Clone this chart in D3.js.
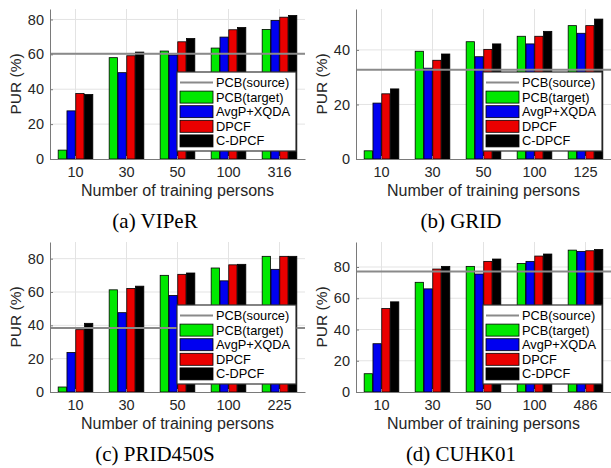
<!DOCTYPE html>
<meta charset="utf-8">
<style>
  body { margin: 0; background: #fff; }
  svg text { font-family: "Liberation Sans", Arial, sans-serif; fill: #262626; }
  .tick text { font-size: 14.5px; }
  .xlabel { font-size: 16px; }
  .ylabel { font-size: 15.5px; }
  .legend text { font-size: 12.8px; fill: #000; }
  svg text.caption { font-family: "Liberation Serif", "Times New Roman", serif; font-size: 21px; fill: #000; }
</style>
<svg width="611" height="468"></svg>
<script src="https://d3js.org/d3.v7.min.js"></script>
<script>
  // series order inside each group
  var seriesNames = ["PCB(target)", "AvgP+XQDA", "DPCF", "C-DPCF"];
  var seriesColors = ["#00e800", "#0000f0", "#ea0000", "#000000"];

  // (a) VIPeR
  var viperCats = ["10", "30", "50", "100", "316"];
  var viperTarget = [5.1, 58.1, 61.9, 63.6, 74.3];
  var viperXqda = [27.6, 49.5, 59.6, 69.9, 79.4];
  var viperDpcf = [37.5, 59.2, 67.2, 74.1, 81.3];
  var viperCdpcf = [37.0, 61.3, 69.1, 75.4, 82.3];
  var viperSource = 60.4;

  // (b) GRID
  var gridCats = ["10", "30", "50", "100", "125"];
  var gridTarget = [3.0, 39.5, 43.0, 45.0, 48.9];
  var gridXqda = [20.5, 33.3, 37.5, 42.2, 46.1];
  var gridDpcf = [23.9, 36.2, 40.2, 45.0, 48.9];
  var gridCdpcf = [25.7, 38.5, 42.2, 46.8, 51.3];
  var gridSource = 32.7;

  // (c) PRID450S
  var pridCats = ["10", "30", "50", "100", "225"];
  var pridTarget = [3.0, 61.3, 70.0, 74.4, 81.4];
  var pridXqda = [23.7, 47.6, 57.9, 66.7, 73.6];
  var pridDpcf = [37.4, 62.1, 70.6, 76.3, 81.4];
  var pridCdpcf = [41.2, 63.5, 71.4, 76.6, 81.4];
  var pridSource = 38.4;

  // (d) CUHK01
  var cuhkCats = ["10", "30", "50", "100", "486"];
  var cuhkTarget = [11.7, 70.2, 80.4, 82.3, 90.8];
  var cuhkXqda = [30.9, 66.0, 75.5, 83.6, 90.0];
  var cuhkDpcf = [53.4, 78.7, 83.6, 87.0, 90.4];
  var cuhkCdpcf = [57.7, 80.4, 85.1, 88.3, 91.2];
  var cuhkSource = 77.2;

  var yTicks80 = [0, 20, 40, 60, 80];
  var yTicks40 = [0, 20, 40];

  var panels = [
    { caption: "(a) VIPeR", cats: viperCats, series: [viperTarget, viperXqda, viperDpcf, viperCdpcf], source: viperSource, ymax: 86, ticks: yTicks80, ox: 50, oy: 9 },
    { caption: "(b) GRID", cats: gridCats, series: [gridTarget, gridXqda, gridDpcf, gridCdpcf], source: gridSource, ymax: 55, ticks: yTicks40, ox: 356, oy: 9 },
    { caption: "(c) PRID450S", cats: pridCats, series: [pridTarget, pridXqda, pridDpcf, pridCdpcf], source: pridSource, ymax: 90, ticks: yTicks80, ox: 50, oy: 242 },
    { caption: "(d) CUHK01", cats: cuhkCats, series: [cuhkTarget, cuhkXqda, cuhkDpcf, cuhkCdpcf], source: cuhkSource, ymax: 96, ticks: yTicks80, ox: 356, oy: 242 }
  ];

  var svg = d3.select("svg"),
    W = 255,
    H = 150;

  panels.forEach(drawPanel);

  function drawPanel(p) {
    var g = svg.append("g").attr("transform", "translate(" + p.ox + "," + p.oy + ")");

    var x0 = d3.scaleBand().domain(p.cats).range([0, W]).paddingInner(0.3).paddingOuter(0.15);
    var x1 = d3.scaleBand().domain(d3.range(seriesNames.length)).range([0, x0.bandwidth()]).padding(0.06);
    var y = d3.scaleLinear().domain([0, p.ymax]).range([H, 0]);

    // grid
    g.selectAll(".hgrid").data(p.ticks.slice(1)).join("line")
      .attr("x1", 0).attr("x2", W)
      .attr("y1", function (d) { return y(d); }).attr("y2", function (d) { return y(d); })
      .attr("stroke", "#e3e3e3");
    g.selectAll(".vgrid").data(p.cats).join("line")
      .attr("x1", function (d) { return x0(d) + x0.bandwidth() / 2; })
      .attr("x2", function (d) { return x0(d) + x0.bandwidth() / 2; })
      .attr("y1", 0).attr("y2", H)
      .attr("stroke", "#e3e3e3");

    // bars
    var rows = p.cats.map(function (c, i) {
      return { cat: c, vals: p.series.map(function (s) { return s[i]; }) };
    });
    var grp = g.selectAll(".grp").data(rows).join("g")
      .attr("transform", function (d) { return "translate(" + x0(d.cat) + ",0)"; });
    grp.selectAll("rect").data(function (d) { return d.vals; }).join("rect")
      .attr("x", function (d, i) { return x1(i); })
      .attr("width", x1.bandwidth())
      .attr("y", function (d) { return y(d); })
      .attr("height", function (d) { return H - y(d); })
      .attr("fill", function (d, i) { return seriesColors[i]; })
      .attr("stroke", "#000")
      .attr("stroke-width", 0.8);

    // source baseline
    g.append("line")
      .attr("x1", 0).attr("x2", W)
      .attr("y1", y(p.source)).attr("y2", y(p.source))
      .attr("stroke", "#8a8a8a").attr("stroke-width", 2);

    // axes
    var ya = g.append("g")
      .call(d3.axisLeft(y).tickValues(p.ticks).tickSizeInner(-3).tickSizeOuter(0).tickPadding(6));
    var xa = g.append("g").attr("transform", "translate(0," + H + ")")
      .call(d3.axisBottom(x0).tickSizeInner(-3).tickSizeOuter(0).tickPadding(8));
    [ya, xa].forEach(function (a) {
      a.select(".domain").attr("stroke", "#7a7a7a");
      a.selectAll(".tick line").attr("stroke", "#7a7a7a");
      a.selectAll("text").attr("fill", "#262626");
    });

    g.append("text").attr("class", "xlabel")
      .attr("x", W / 2).attr("y", H + 37)
      .attr("text-anchor", "middle")
      .text("Number of training persons");

    g.append("text").attr("class", "ylabel")
      .attr("transform", "translate(-29," + H / 2 + ") rotate(-90)")
      .attr("text-anchor", "middle")
      .text("PUR (%)");

    svg.append("text").attr("class", "caption")
      .attr("x", p.ox + 105).attr("y", p.oy + 219)
      .attr("text-anchor", "middle")
      .text(p.caption);

    // legend
    var lw = 119, lh = 79;
    var lg = g.append("g").attr("class", "legend")
      .attr("transform", "translate(" + (W - 9 - lw) + "," + (H - 8 - lh) + ")");
    lg.append("rect").attr("width", lw).attr("height", lh)
      .attr("fill", "#fff").attr("stroke", "#333").attr("stroke-width", 1.2);
    var labels = ["PCB(source)"].concat(seriesNames);
    var item = lg.selectAll(".item").data(labels).join("g")
      .attr("transform", function (d, i) { return "translate(0," + (10.5 + i * 14.6) + ")"; });
    item.each(function (d, i) {
      var it = d3.select(this);
      if (i === 0) {
        it.append("line").attr("x1", 3).attr("x2", 36).attr("y1", 0).attr("y2", 0)
          .attr("stroke", "#8a8a8a").attr("stroke-width", 2);
      } else {
        it.append("rect").attr("x", 3).attr("y", -6).attr("width", 33).attr("height", 12)
          .attr("fill", seriesColors[i - 1]).attr("stroke", "#000").attr("stroke-width", 0.8);
      }
      it.append("text").attr("x", 39).attr("y", 0).attr("dy", "0.35em").text(d);
    });
  }
</script>
